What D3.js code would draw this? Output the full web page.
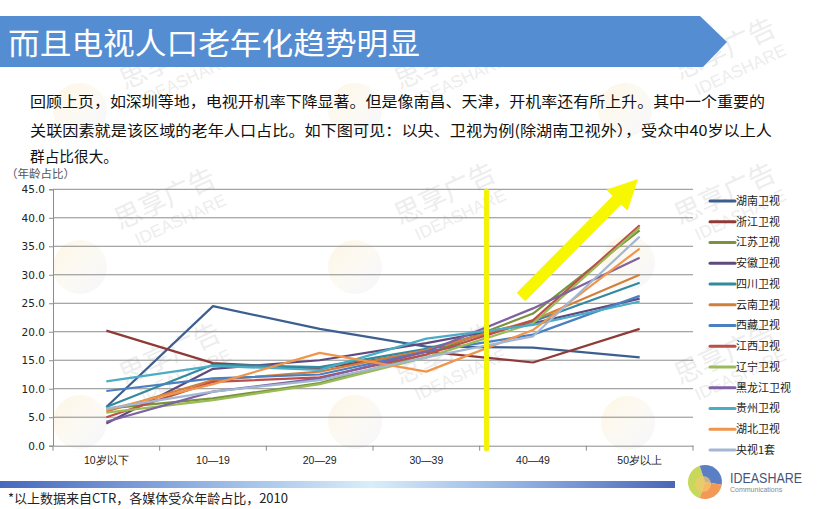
<!DOCTYPE html>
<html>
<head>
<meta charset="utf-8">
<script src="https://cdn.jsdelivr.net/npm/d3@7"></script>
<style>
  html, body { margin: 0; padding: 0; background: #fff; }
  svg { display: block; font-family: "Noto Sans CJK SC", "Noto Sans", sans-serif; }
</style>
</head>
<body>
<div id="chart"></div>
<script>
// Chart data
const ageGroups = ['10岁以下', '10—19', '20—29', '30—39', '40—49', '50岁以上'];
const channels = ['湖南卫视', '浙江卫视', '江苏卫视', '安徽卫视', '四川卫视', '云南卫视', '西藏卫视',
                  '江西卫视', '辽宁卫视', '黑龙江卫视', '贵州卫视', '湖北卫视', '央视1套'];
const hunan =   [6.8, 24.5, 20.5, 17.4, 17.2, 15.5];
const zhejiang = [20.2, 14.5, 13.5, 16.5, 14.6, 20.5];
const jiangsu = [6.5, 8.3, 11.0, 16.0, 23.2, 37.8];
const anhui =   [3.9, 13.5, 15.0, 18.0, 21.5, 25.8];
const sichuan = [6.8, 14.2, 13.8, 17.0, 21.8, 28.6];
const yunnan =  [6.0, 11.5, 13.0, 16.8, 22.0, 30.0];
const xizang =  [9.6, 11.8, 12.5, 16.5, 19.5, 26.3];
const jiangxi = [5.0, 11.2, 12.0, 16.0, 22.0, 38.7];
const liaoning = [5.8, 8.0, 10.8, 15.5, 21.5, 38.3];
const heilongjiang = [4.2, 9.5, 11.8, 16.5, 24.1, 33.0];
const guizhou = [11.3, 14.0, 13.3, 18.8, 21.2, 25.3];
const hubei =   [6.3, 10.8, 16.3, 13.0, 20.3, 34.6];
const cctv1 =   [6.5, 9.5, 11.5, 15.5, 19.2, 36.7];
const yTicks = [0, 5, 10, 15, 20, 25, 30, 35, 40, 45];

const seriesValues = [hunan, zhejiang, jiangsu, anhui, sichuan, yunnan, xizang,
                      jiangxi, liaoning, heilongjiang, guizhou, hubei, cctv1];
const colors = ['#3d5f8f', '#8e3a37', '#77933c', '#5f4a7d', '#33899e', '#d27f3c', '#4a7fc0',
                '#bd4f4b', '#9bbb59', '#7e62a2', '#4bacc6', '#f0954c', '#a3b7d3'];

const W = 817, H = 509;
const svg = d3.select('#chart').append('svg')
    .attr('width', W)
    .attr('height', H);

const defs = svg.append('defs');
const barGrad = defs.append('linearGradient').attr('id', 'bar-grad');
[['0%', '#4768bd'], ['28%', '#8eaee0'], ['55%', '#d8eef9'], ['78%', '#8eaee0'], ['100%', '#4a66b8']]
    .forEach(s => barGrad.append('stop').attr('offset', s[0]).attr('stop-color', s[1]));
const wmGrad = defs.append('linearGradient').attr('id', 'wm-grad')
    .attr('x1', '0%').attr('y1', '0%').attr('x2', '100%').attr('y2', '100%');
[['0%', '#fbe1a6'], ['50%', '#f6edd9'], ['100%', '#d9e2f2']]
    .forEach(s => wmGrad.append('stop').attr('offset', s[0]).attr('stop-color', s[1]));

// Faint watermarks
const wm = svg.append('g').attr('class', 'watermarks');
[[80, 110], [355, 110], [625, 110], [80, 267], [355, 267], [628, 263], [80, 422], [355, 422], [628, 423]]
    .forEach(p => {
        wm.append('circle').attr('cx', p[0]).attr('cy', p[1]).attr('r', 27)
            .attr('fill', 'url(#wm-grad)').attr('opacity', 0.3);
    });
[[120, 230], [400, 225], [680, 225], [125, 90], [400, 90], [680, 80], [125, 385], [400, 385], [680, 385]]
    .forEach(p => {
        const t = wm.append('g').attr('transform', `translate(${p[0]},${p[1]}) rotate(-25)`)
            .attr('opacity', 0.15).attr('fill', '#8a8a8a');
        t.append('text').attr('font-size', 27).text('思享广告');
        t.append('text').attr('y', 22).attr('x', 10).attr('font-size', 17)
            .attr('font-family', 'Arial, "Liberation Sans", sans-serif').text('IDEASHARE');
    });

// Title band
svg.append('path')
    .attr('d', 'M0,16 L700,16 L727,42 L703,67 L0,67 Z')
    .attr('fill', '#558dd3');
svg.append('text')
    .attr('x', 8).attr('y', 54)
    .attr('fill', '#fff')
    .attr('font-size', 30)
    .attr('textLength', 412)
    .attr('lengthAdjust', 'spacingAndGlyphs')
    .text('而且电视人口老年化趋势明显');

// Paragraph
const para = [
    ['回顾上页，如深圳等地，电视开机率下降显著。但是像南昌、天津，开机率还有所上升。其中一个重要的', 107, 735],
    ['关联因素就是该区域的老年人口占比。如下图可见：以央、卫视为例(除湖南卫视外），受众中40岁以上人', 136, 742],
    ['群占比很大。', 162, 88]
];
para.forEach(d => {
    svg.append('text')
        .attr('x', 30).attr('y', d[1])
        .attr('font-size', 15)
        .attr('fill', '#111')
        .attr('textLength', d[2])
        .attr('lengthAdjust', 'spacingAndGlyphs')
        .text(d[0]);
});

// Chart
const x = d3.scaleBand().domain(ageGroups).range([53, 693]);
const y = d3.scaleLinear().domain([0, 45]).range([445.7, 189.3]);
const xc = d => x(d) + x.bandwidth() / 2;

svg.append('text')
    .attr('x', 6).attr('y', 178)
    .attr('font-size', 11.5)
    .attr('fill', '#555')
    .text('（年龄占比）');

const plot = svg.append('g');

plot.append('g')
    .selectAll('line')
    .data(yTicks.filter(v => v > 0))
    .enter()
    .append('line')
    .attr('x1', 53).attr('x2', 693)
    .attr('y1', d => y(d)).attr('y2', d => y(d))
    .attr('stroke', '#8c8c8c')
    .attr('stroke-width', 1);

const yAxis = plot.append('g')
    .attr('transform', 'translate(53,0)')
    .call(d3.axisLeft(y).tickValues(yTicks).tickFormat(d3.format('.1f')).tickSize(4).tickPadding(4));
yAxis.selectAll('text').attr('font-size', 10.5).attr('fill', '#222')
    .attr('font-family', '"DejaVu Sans", sans-serif');
yAxis.selectAll('line, path').attr('stroke', '#8c8c8c');

const xAxis = plot.append('g')
    .attr('transform', `translate(0,${y(0)})`)
    .call(d3.axisBottom(x).tickSize(0).tickPadding(11));
xAxis.selectAll('text').attr('font-size', 10.5).attr('fill', '#222');
xAxis.select('.domain').attr('stroke', '#8c8c8c');
xAxis.selectAll('.sep')
    .data(d3.range(ageGroups.length + 1))
    .enter()
    .append('line')
    .attr('x1', i => 53 + i * x.bandwidth()).attr('x2', i => 53 + i * x.bandwidth())
    .attr('y1', 0).attr('y2', 5)
    .attr('stroke', '#8c8c8c');

const line = d3.line()
    .x((d, i) => xc(ageGroups[i]))
    .y(d => y(d));

plot.append('g')
    .selectAll('path')
    .data(seriesValues)
    .enter()
    .append('path')
    .attr('fill', 'none')
    .attr('stroke', (d, i) => colors[i])
    .attr('stroke-width', 2.2)
    .attr('stroke-linejoin', 'round')
    .attr('d', line);

// Yellow divider and arrow
svg.append('line')
    .attr('x1', 486.5).attr('x2', 486.5)
    .attr('y1', 191).attr('y2', 449)
    .attr('stroke', '#f2f20a')
    .attr('stroke-width', 5)
    .attr('stroke-linecap', 'round');

const tail = [521, 297], tip = [638, 179];
const ang = Math.atan2(tip[1] - tail[1], tip[0] - tail[0]);
const len = Math.hypot(tip[0] - tail[0], tip[1] - tail[1]);
const headL = 30, shaftW = 6, headW = 15;
const arrowPts = [[0, -shaftW], [len - headL, -shaftW], [len - headL, -headW], [len, 0],
                  [len - headL, headW], [len - headL, shaftW], [0, shaftW]];
svg.append('polygon')
    .attr('points', arrowPts.map(p => p.join(',')).join(' '))
    .attr('transform', `translate(${tail[0]},${tail[1]}) rotate(${ang * 180 / Math.PI})`)
    .attr('fill', '#f7f700');

// Legend
const legend = svg.append('g');
const item = legend.selectAll('g')
    .data(channels)
    .enter()
    .append('g')
    .attr('transform', (d, i) => `translate(710,${201 + i * 20.75})`);
item.append('line')
    .attr('x1', 0).attr('x2', 25)
    .attr('stroke', (d, i) => colors[i])
    .attr('stroke-width', 3)
    .attr('stroke-linecap', 'round');
item.append('text')
    .attr('x', 26).attr('dy', '0.35em')
    .attr('font-size', 11)
    .attr('fill', '#222')
    .text(d => d);

// Footer bar, note and logo
svg.append('rect')
    .attr('x', 0).attr('y', 481)
    .attr('width', 675).attr('height', 7)
    .attr('fill', 'url(#bar-grad)');
svg.append('text')
    .attr('x', 8).attr('y', 503)
    .attr('font-size', 13)
    .attr('fill', '#222')
    .text('*以上数据来自CTR，各媒体受众年龄占比，2010');

const logo = svg.append('g').attr('transform', 'translate(705,482)');
const arc = d3.arc().innerRadius(0).outerRadius(17);
[[-Math.PI * 0.9, -Math.PI * 0.1, '#c7d85a'], [-Math.PI * 0.1, Math.PI * 0.55, '#5b7fc4'],
 [Math.PI * 0.55, Math.PI * 1.1, '#f29a55']]
    .forEach(s => logo.append('path')
        .attr('d', arc({ startAngle: s[0], endAngle: s[1] }))
        .attr('fill', s[2]));
logo.append('circle').attr('r', 8).attr('cx', -2).attr('cy', 2).attr('fill', '#f6c870').attr('opacity', 0.7);
svg.append('text')
    .attr('x', 730).attr('y', 483)
    .attr('font-size', 14)
    .attr('fill', '#44557a')
    .attr('font-family', '"Liberation Sans Narrow", "Liberation Sans", Arial, sans-serif')
    .attr('textLength', 72)
    .attr('lengthAdjust', 'spacingAndGlyphs')
    .text('IDEASHARE');
svg.append('text')
    .attr('x', 730).attr('y', 492)
    .attr('font-size', 7)
    .attr('fill', '#888')
    .attr('font-family', '"Liberation Sans", Arial, sans-serif')
    .text('Communications');
</script>
</body>
</html>
